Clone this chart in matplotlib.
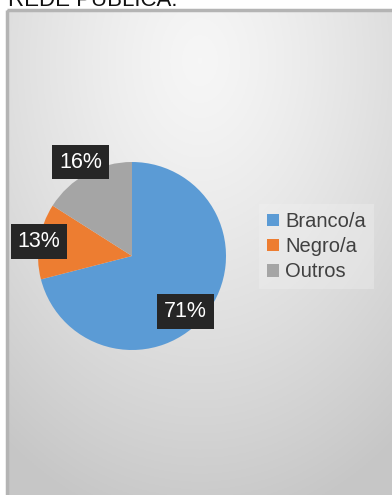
import numpy as np
import matplotlib
matplotlib.use('Agg')
import matplotlib.pyplot as plt
from matplotlib.patches import Rectangle

plt.rcParams['font.family'] = ['Liberation Sans', 'DejaVu Sans']

# Data
categories = ['Branco/a', 'Negro/a', 'Outros']
shares = [71, 13, 16]
colors = ['#5b9bd5', '#ed7d31', '#a5a5a5']
title_text = 'REDE PÚBLICA.'

W, H = 392, 495
fig = plt.figure(figsize=(W / 100, H / 100), dpi=100)
fig.patch.set_facecolor('white')

# Background panel in pixel coordinates
bg = fig.add_axes([0, 0, 1, 1])
bg.set_xlim(0, W)
bg.set_ylim(H, 0)
bg.axis('off')

# Radial grey gradient, lightest near the upper middle
x0, y0, x1, y1 = 7, 10, W + 5, H + 5
xx, yy = np.meshgrid(np.linspace(x0, x1, 200), np.linspace(y0, y1, 250))
d = np.sqrt(((xx - 200) / 330) ** 2 + ((yy - 60) / 470) ** 2)
d = np.clip(d, 0, 1)
shade = 0.965 - 0.185 * d ** 1.3
img = np.dstack([shade, shade, shade])
bg.imshow(img, extent=(x0, x1, y1, y0), aspect='auto', zorder=0)
bg.add_patch(Rectangle((x0, y0), x1 - x0, y1 - y0, fill=False,
                       edgecolor='#b4b4b4', linewidth=2.5, zorder=1))

# Title line, mostly cut off at the top edge
bg.text(8, 6, title_text, fontsize=16, color='#111111',
        ha='left', va='baseline', zorder=2)

# Pie
cx, cy, r = 132, 256, 94
pax = fig.add_axes([(cx - r) / W, 1 - (cy + r) / H, 2 * r / W, 2 * r / H])
wedges, _ = pax.pie(shares, colors=colors, startangle=90, counterclock=False,
                    radius=1, wedgeprops=dict(linewidth=0))
pax.set_xlim(-1, 1)
pax.set_ylim(-1, 1)
pax.set_aspect('equal')
pax.axis('off')

# Data labels
label_r = [0.82, 1.0, 1.14]
label_shift = [-8, 0, 0]
for w, val, lr, sh in zip(wedges, shares, label_r, label_shift):
    ang = np.deg2rad((w.theta1 + w.theta2) / 2 + sh)
    pax.text(lr * np.cos(ang), lr * np.sin(ang), '%d%%' % val,
             fontsize=15.5, color='white', ha='center', va='center',
             bbox=dict(boxstyle='square,pad=0.32', facecolor='#262626',
                       edgecolor='none'), zorder=5, clip_on=False)

# Legend
handles = [Rectangle((0, 0), 1, 1, facecolor=c, edgecolor='none') for c in colors]
leg = fig.legend(handles, categories, loc='upper left',
                 bbox_to_anchor=(249 / W, 1 - 194 / H), fontsize=14.5,
                 frameon=True, facecolor='#f2f2f2', edgecolor='none',
                 framealpha=0.35, handlelength=0.6, handleheight=0.6,
                 handletextpad=0.3, labelspacing=0.3, borderpad=0.4,
                 fancybox=False)
for t in leg.get_texts():
    t.set_color('#404040')

plt.savefig('out.png', dpi=100, facecolor='white')
plt.close(fig)
